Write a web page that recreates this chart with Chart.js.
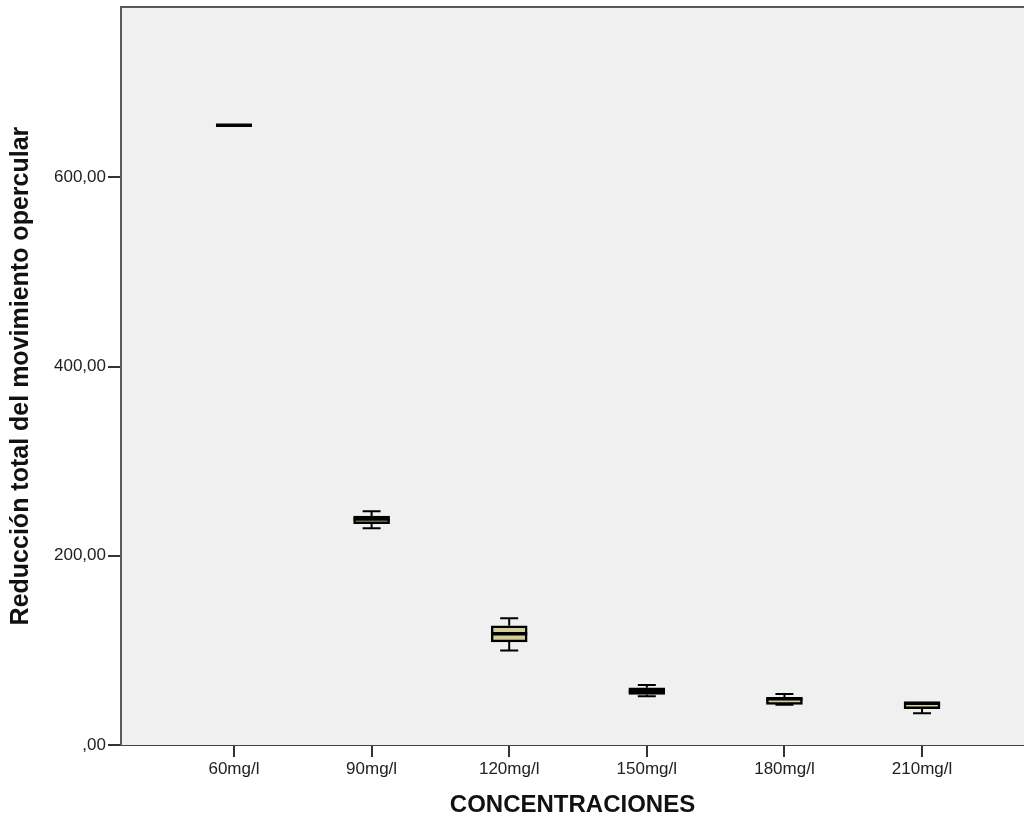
<!DOCTYPE html>
<html>
<head>
<meta charset="utf-8">
<script src="https://cdn.jsdelivr.net/npm/chart.js@4.4.1/dist/chart.umd.min.js"></script>
<style>
  html, body { margin: 0; padding: 0; background: #ffffff; }
  #wrap { width: 1024px; height: 824px; position: relative; }
</style>
</head>
<body>
<div id="wrap"><canvas id="chart"></canvas></div>
<script>
// Concentration groups and box-plot statistics per group
const categories = ['60mg/l', '90mg/l', '120mg/l', '150mg/l', '180mg/l', '210mg/l'];
const minVals    = [655, 229, 100, 51.5, 42.5, 33.5];
const q1Vals     = [655, 234, 109, 53.5, 43, 38.5];
const medianVals = [655, 239, 117.5, 56.5, 49, 44];
const q3Vals     = [655, 242, 126, 60.5, 50, 45.5];
const maxVals    = [655, 247, 134, 63.5, 54, 45.5];
const yTickValues = [0, 200, 400, 600];

const FONT = '"Liberation Sans", Arial, sans-serif';
const BOX_FILL = '#d3ce97';
const BOX_WIDTH = 36;

// SPSS-style number format: 200 -> "200,00", 0 -> ",00"
function fmt(v) {
  const s = v.toFixed(2).replace('.', ',');
  return s.startsWith('0,') ? s.slice(1) : s;
}

const boxData = categories.map((c, i) => ({ x: i + 1, y: [q1Vals[i], q3Vals[i]] }));

// Plot-area background and frame
const frame = {
  id: 'frame',
  beforeDatasetsDraw(chart) {
    const { ctx, chartArea: a } = chart;
    ctx.save();
    ctx.fillStyle = '#f0f0f0';
    ctx.fillRect(a.left, a.top, a.right - a.left, a.bottom - a.top);
    ctx.strokeStyle = '#5a5a5a';
    ctx.lineWidth = 2;
    ctx.beginPath();
    ctx.moveTo(a.left, a.bottom);
    ctx.lineTo(a.left, a.top);
    ctx.lineTo(a.right + 2, a.top);
    ctx.stroke();
    ctx.restore();
  }
};

// Whiskers behind the boxes, medians on top
const whiskers = {
  id: 'whiskers',
  beforeDatasetsDraw(chart) {
    const { ctx } = chart;
    const xs = chart.scales.x, ys = chart.scales.y;
    ctx.save();
    ctx.strokeStyle = '#000';
    ctx.lineWidth = 2;
    categories.forEach((c, i) => {
      const x = xs.getPixelForValue(i + 1);
      const half = BOX_WIDTH / 4;
      const yMin = ys.getPixelForValue(minVals[i]);
      const yMax = ys.getPixelForValue(maxVals[i]);
      const yQ1 = ys.getPixelForValue(q1Vals[i]);
      const yQ3 = ys.getPixelForValue(q3Vals[i]);
      ctx.beginPath();
      if (minVals[i] < q1Vals[i]) {
        ctx.moveTo(x, yQ1); ctx.lineTo(x, yMin);
        ctx.moveTo(x - half, yMin); ctx.lineTo(x + half, yMin);
      }
      if (maxVals[i] > q3Vals[i]) {
        ctx.moveTo(x, yQ3); ctx.lineTo(x, yMax);
        ctx.moveTo(x - half, yMax); ctx.lineTo(x + half, yMax);
      }
      ctx.stroke();
    });
    ctx.restore();
  },
  afterDatasetsDraw(chart) {
    const { ctx } = chart;
    const xs = chart.scales.x, ys = chart.scales.y;
    ctx.save();
    ctx.strokeStyle = '#000';
    ctx.lineWidth = 3.5;
    categories.forEach((c, i) => {
      const x = xs.getPixelForValue(i + 1);
      const y = ys.getPixelForValue(medianVals[i]);
      ctx.beginPath();
      ctx.moveTo(x - BOX_WIDTH / 2, y);
      ctx.lineTo(x + BOX_WIDTH / 2, y);
      ctx.stroke();
    });
    ctx.restore();
  }
};

new Chart(document.getElementById('chart'), {
  type: 'bar',
  data: {
    datasets: [{
      data: boxData,
      backgroundColor: BOX_FILL,
      borderColor: '#000',
      borderWidth: 2.5,
      borderSkipped: false,
      barThickness: BOX_WIDTH
    }]
  },
  options: {
    responsive: true,
    maintainAspectRatio: false,
    animation: false,
    layout: { padding: { top: 6, right: 0, left: 0, bottom: 0 } },
    plugins: { legend: { display: false }, tooltip: { enabled: false } },
    scales: {
      x: {
        type: 'linear',
        min: 0.179,
        max: 6.741,
        offset: false,
        afterBuildTicks(scale) { scale.ticks = categories.map((c, i) => ({ value: i + 1 })); },
        afterFit(scale) { scale.height = 79; },
        ticks: {
          autoSkip: false,
          maxRotation: 0,
          padding: 2,
          color: '#222',
          font: { family: FONT, size: 17 },
          callback: (v) => categories[Math.round(v) - 1]
        },
        grid: { offset: false, drawOnChartArea: false, drawTicks: true, tickLength: 12, color: '#333', lineWidth: 2 },
        border: { display: true, color: '#444', width: 2 },
        title: {
          display: true,
          text: 'CONCENTRACIONES',
          color: '#111',
          font: { family: FONT, size: 24, weight: 'bold' },
          padding: { top: 8 }
        }
      },
      y: {
        min: 0,
        max: 780,
        afterBuildTicks(scale) { scale.ticks = yTickValues.map(v => ({ value: v })); },
        afterFit(scale) { scale.width = 121; },
        ticks: {
          padding: 2,
          color: '#222',
          font: { family: FONT, size: 17, lineHeight: 0.6 },
          callback: (v) => fmt(v)
        },
        grid: { drawOnChartArea: false, drawTicks: true, tickLength: 13, color: '#333', lineWidth: 2 },
        border: { display: true, color: '#444', width: 2 },
        title: {
          display: true,
          text: 'Reducción total del movimiento opercular',
          color: '#111',
          font: { family: FONT, size: 25, weight: 'bold' },
          padding: { top: 6, bottom: 0 }
        }
      }
    }
  },
  plugins: [frame, whiskers]
});
</script>
</body>
</html>
